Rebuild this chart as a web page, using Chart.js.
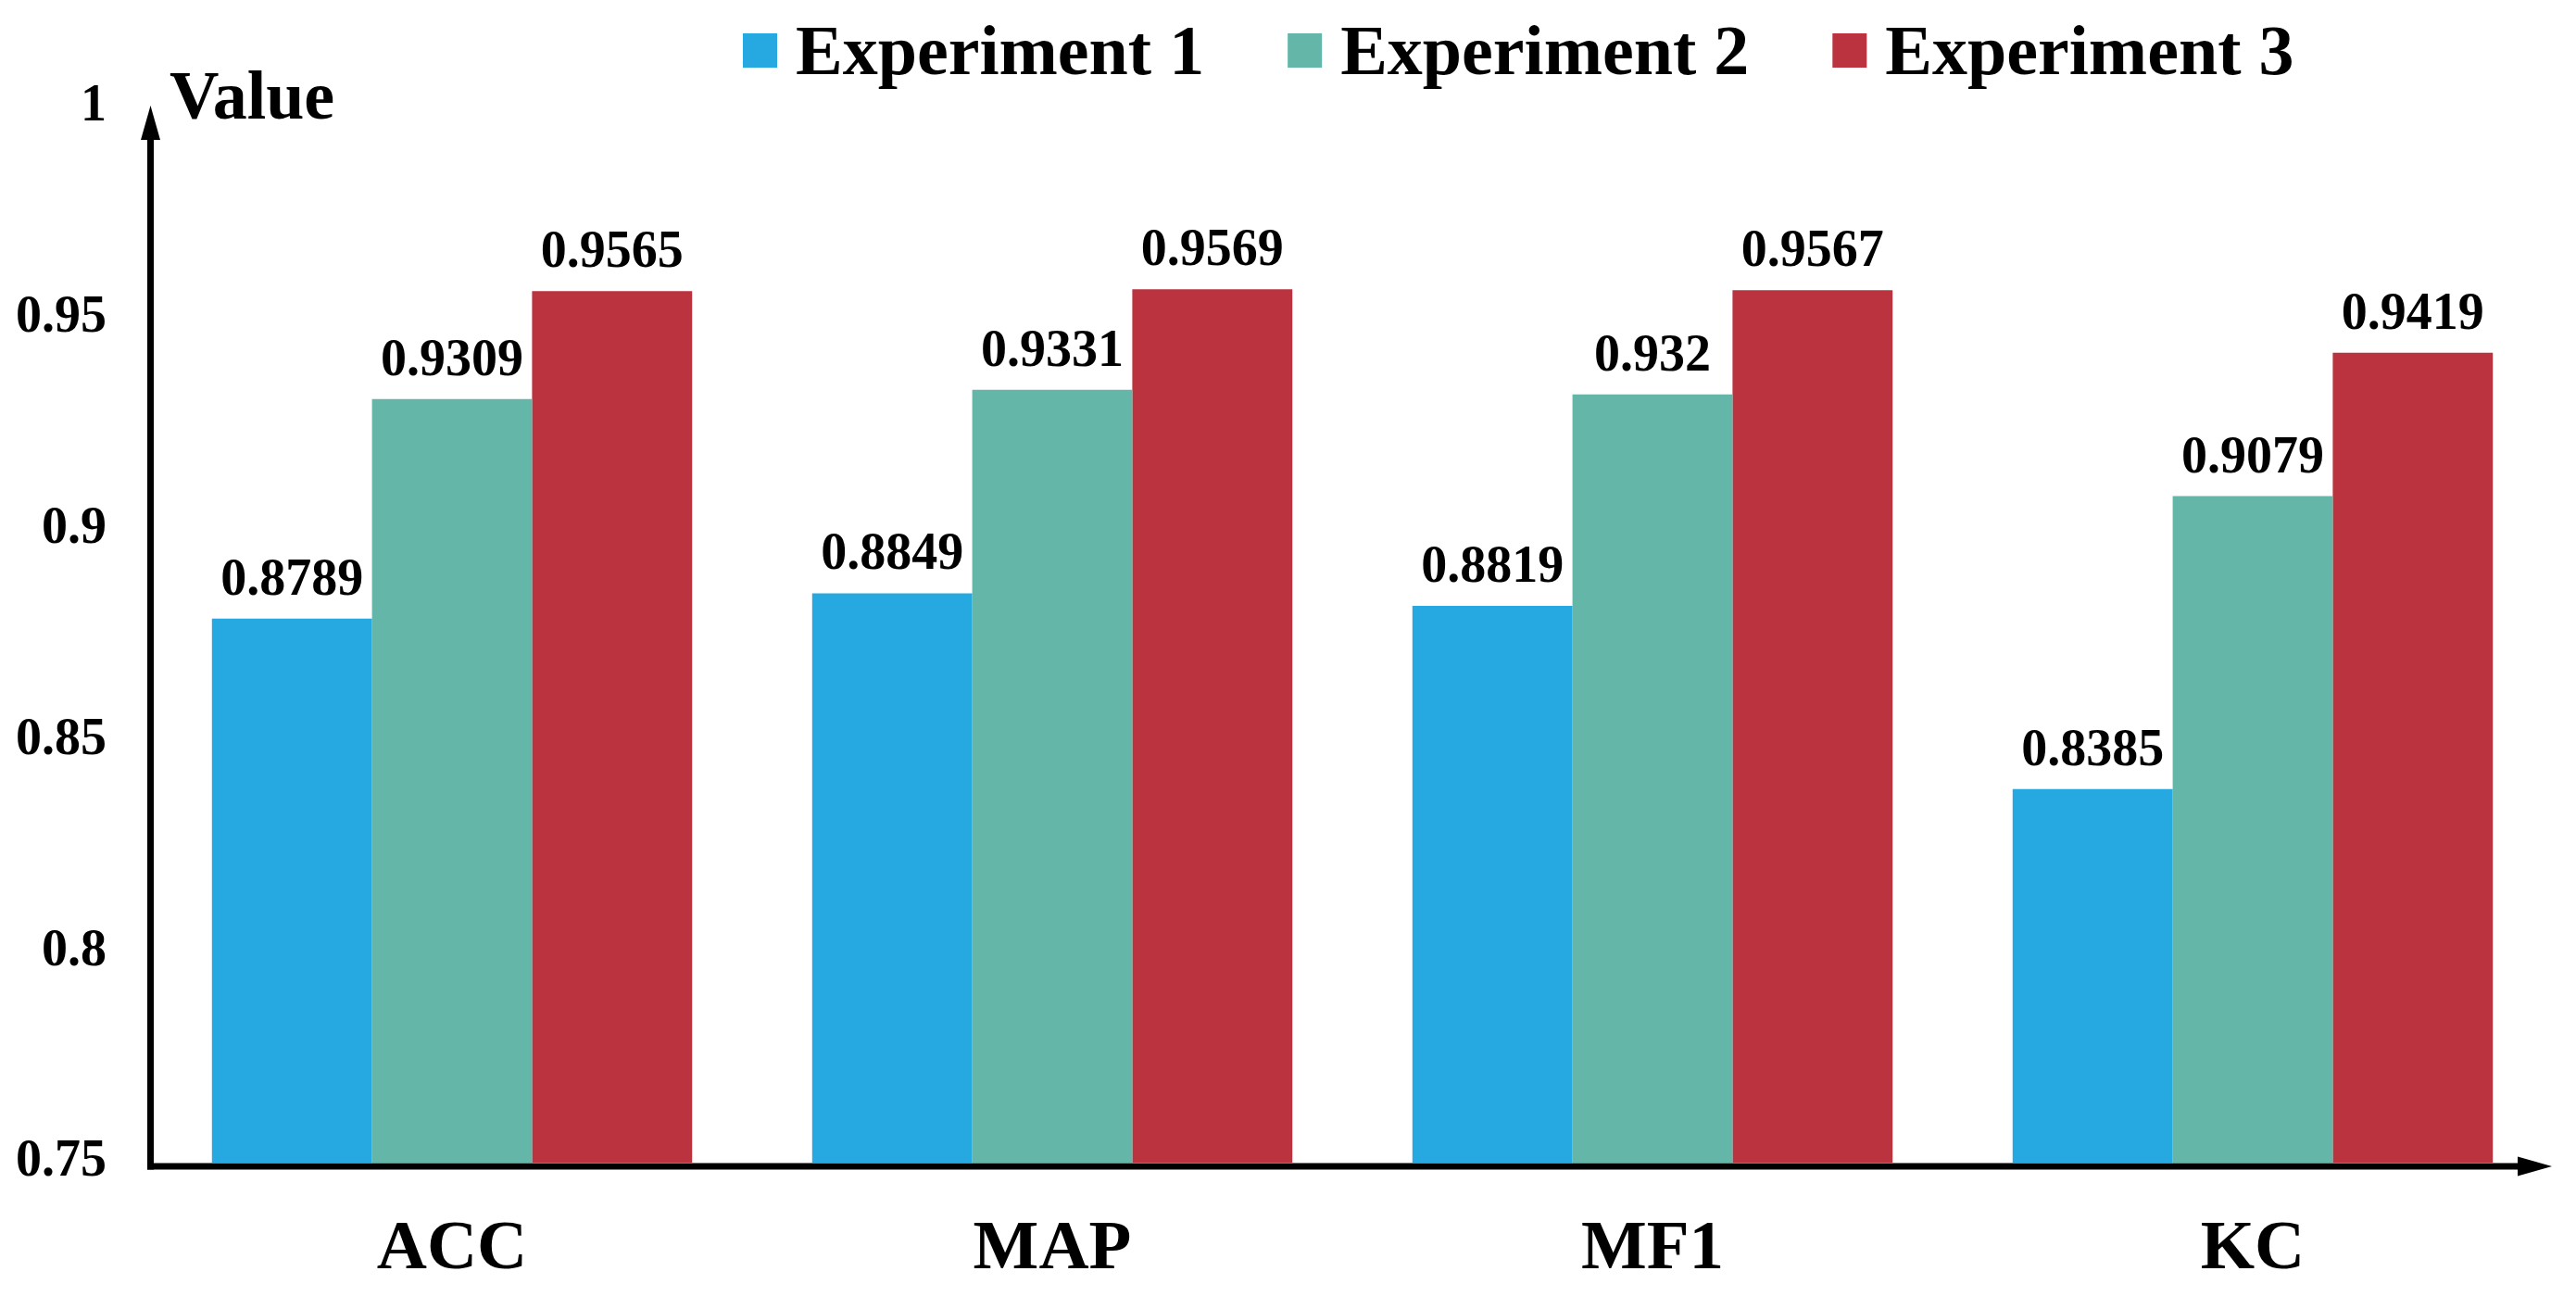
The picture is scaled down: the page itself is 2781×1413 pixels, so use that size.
<!DOCTYPE html>
<html>
<head>
<meta charset="utf-8">
<title>Experiment comparison</title>
<script src="https://cdn.jsdelivr.net/npm/chart.js@4.4.1/dist/chart.umd.min.js"></script>
<style>
  html, body { margin: 0; padding: 0; background: #fff; }
  #wrap { width: 2781px; height: 1413px; }
</style>
</head>
<body>
<div id="wrap"><canvas id="bars"></canvas></div>
<script>
const metrics = ['ACC', 'MAP', 'MF1', 'KC'];
const exp1 = [0.8789, 0.8849, 0.8819, 0.8385];
const exp2 = [0.9309, 0.9331, 0.932, 0.9079];
const exp3 = [0.9565, 0.9569, 0.9567, 0.9419];
const seriesNames = ['Experiment 1', 'Experiment 2', 'Experiment 3'];
const seriesColors = ['#25A9E0', '#64B6A8', '#BA333E'];
const yTicks = [0.75, 0.8, 0.85, 0.9, 0.95, 1];

const serif = "'Liberation Serif', 'Times New Roman', serif";

// value labels on top of each bar
const barLabels = {
    id: 'barLabels',
    afterDatasetsDraw(chart) {
        const c = chart.ctx;
        c.save();
        c.font = 'bold 56px ' + serif;
        c.fillStyle = '#000';
        c.textAlign = 'center';
        c.textBaseline = 'alphabetic';
        chart.data.datasets.forEach((ds, i) => {
            chart.getDatasetMeta(i).data.forEach((bar, j) => {
                c.fillText(String(ds.data[j]), bar.x, bar.y - 26);
            });
        });
        c.restore();
    }
};

// arrow axes, axis title and legend
const arrowAxes = {
    id: 'arrowAxes',
    afterDraw(chart) {
        const c = chart.ctx;
        const a = chart.chartArea;
        const base = chart.scales.y.getPixelForValue(0.75);
        const ax = a.left - 1.5;
        const ay = base + 4;
        c.save();
        c.fillStyle = '#000';
        c.strokeStyle = '#000';
        c.lineWidth = 7;

        // y axis
        c.beginPath();
        c.moveTo(ax, ay + 3.5);
        c.lineTo(ax, a.top + 32);
        c.stroke();
        c.beginPath();
        c.moveTo(ax, a.top - 2);
        c.lineTo(ax - 10.5, a.top + 35);
        c.lineTo(ax + 10.5, a.top + 35);
        c.closePath();
        c.fill();

        // x axis
        c.beginPath();
        c.moveTo(ax - 3.5, ay);
        c.lineTo(a.right - 36, ay);
        c.stroke();
        c.beginPath();
        c.moveTo(a.right - 1, ay);
        c.lineTo(a.right - 38, ay - 10.5);
        c.lineTo(a.right - 38, ay + 10.5);
        c.closePath();
        c.fill();

        // axis title
        c.font = 'bold 74px ' + serif;
        c.textAlign = 'left';
        c.textBaseline = 'alphabetic';
        c.fillText('Value', 183, 128);

        // legend
        c.font = 'bold 76px ' + serif;
        let lx = 802;
        chart.data.datasets.forEach((ds) => {
            c.fillStyle = ds.backgroundColor;
            c.fillRect(lx, 36, 37, 37);
            c.fillStyle = '#000';
            c.fillText(ds.label, lx + 57, 80);
            lx += 57 + c.measureText(ds.label).width + 90;
        });
        c.restore();
    }
};

const ctx = document.getElementById('bars');
new Chart(ctx, {
    type: 'bar',
    data: {
        labels: metrics,
        datasets: [
            { label: seriesNames[0], data: exp1, backgroundColor: seriesColors[0] },
            { label: seriesNames[1], data: exp2, backgroundColor: seriesColors[1] },
            { label: seriesNames[2], data: exp3, backgroundColor: seriesColors[2] }
        ]
    },
    options: {
        responsive: true,
        maintainAspectRatio: false,
        devicePixelRatio: 1,
        animation: false,
        datasets: {
            bar: { categoryPercentage: 0.8, barPercentage: 1.0, borderWidth: 0 }
        },
        layout: { padding: { top: 116, right: 25, bottom: 0, left: 0 } },
        plugins: {
            legend: { display: false },
            tooltip: { enabled: false }
        },
        scales: {
            x: {
                grid: { display: false, drawTicks: false },
                border: { display: false },
                ticks: {
                    color: '#000',
                    padding: 50,
                    font: { family: serif, size: 75, weight: 'bold' }
                },
                afterFit(scale) { scale.height = 158; }
            },
            y: {
                min: 0.75,
                max: 1,
                grid: { display: false, drawTicks: false },
                border: { display: false },
                afterBuildTicks(scale) {
                    scale.ticks = yTicks.map(v => ({ value: v }));
                },
                ticks: {
                    color: '#000',
                    padding: 49,
                    font: { family: serif, size: 56, weight: 'bold' },
                    callback: (v) => String(+Number(v).toFixed(2))
                },
                afterFit(scale) { scale.width = 164; }
            }
        }
    },
    plugins: [barLabels, arrowAxes]
});
</script>
</body>
</html>
